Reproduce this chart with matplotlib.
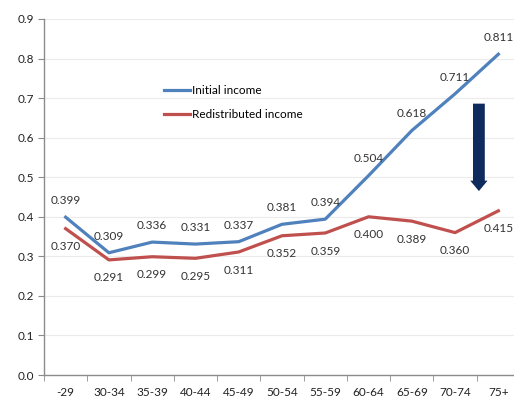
import matplotlib.pyplot as plt

plt.rcParams['font.family'] = ['Lato', 'DejaVu Sans']

age_groups = ['-29', '30-34', '35-39', '40-44', '45-49', '50-54',
              '55-59', '60-64', '65-69', '70-74', '75+']
initial = [0.399, 0.309, 0.336, 0.331, 0.337, 0.381,
           0.394, 0.504, 0.618, 0.711, 0.811]
redistributed = [0.370, 0.291, 0.299, 0.295, 0.311, 0.352,
                 0.359, 0.400, 0.389, 0.360, 0.415]
yticks = [0.0, 0.1, 0.2, 0.3, 0.4, 0.5, 0.6, 0.7, 0.8, 0.9]

blue = '#4f81bd'
red = '#c0504d'
axis_grey = '#8c8c8c'

fig = plt.figure(figsize=(5.14, 4.03), dpi=100)
ax = fig.add_axes([44 / 514, 28 / 403, 476 / 514, 356 / 403])

x = list(range(len(age_groups)))
ax.plot(x, initial, color=blue, lw=2.3, label='Initial income', solid_joinstyle='round')
ax.plot(x, redistributed, color=red, lw=2.3, label='Redistributed income', solid_joinstyle='round')

for i, v in enumerate(initial):
    ax.annotate(f'{v:.3f}', (i, v), xytext=(0, 12), textcoords='offset points',
                ha='center', va='center', fontsize=8.5, color='#333333')
for i, v in enumerate(redistributed):
    ax.annotate(f'{v:.3f}', (i, v), xytext=(0, -13), textcoords='offset points',
                ha='center', va='center', fontsize=8.5, color='#333333')

# arrow showing the drop from initial to redistributed at the oldest ages
ax.annotate('', xy=(9.55, 0.465), xytext=(9.55, 0.686),
            arrowprops=dict(arrowstyle='simple,head_length=0.75,head_width=1.25,tail_width=0.85',
                            color='#0f2a5c', lw=0, shrinkA=0, shrinkB=0))

ax.set_xlim(-0.5, len(age_groups) - 0.5)
ax.set_ylim(0, 0.9)
ax.set_yticks(yticks)
ax.set_yticklabels([f'{t:.1f}' for t in yticks])
ax.set_xticks(x)
ax.set_xticklabels(age_groups)
ax.set_xticks([i + 0.5 for i in range(-1, len(age_groups))], minor=True)
ax.tick_params(axis='x', which='major', length=0, pad=9, labelsize=8.5, colors='#222222')
ax.tick_params(axis='x', which='minor', length=4, color=axis_grey, direction='out')
ax.tick_params(axis='y', length=4, color=axis_grey, labelsize=8.5, labelcolor='#222222', pad=3)

ax.grid(axis='y', color='#ebebeb', lw=0.8)
ax.set_axisbelow(True)
for side in ['top', 'right']:
    ax.spines[side].set_visible(False)
for side in ['left', 'bottom']:
    ax.spines[side].set_color(axis_grey)
    ax.spines[side].set_linewidth(1.0)

ax.legend(loc='upper left', bbox_to_anchor=(0.23, 0.845), frameon=False, fontsize=8.5,
          handlelength=2.2, handletextpad=0.15, labelspacing=1.15)

fig.savefig('out.png', dpi=100)
